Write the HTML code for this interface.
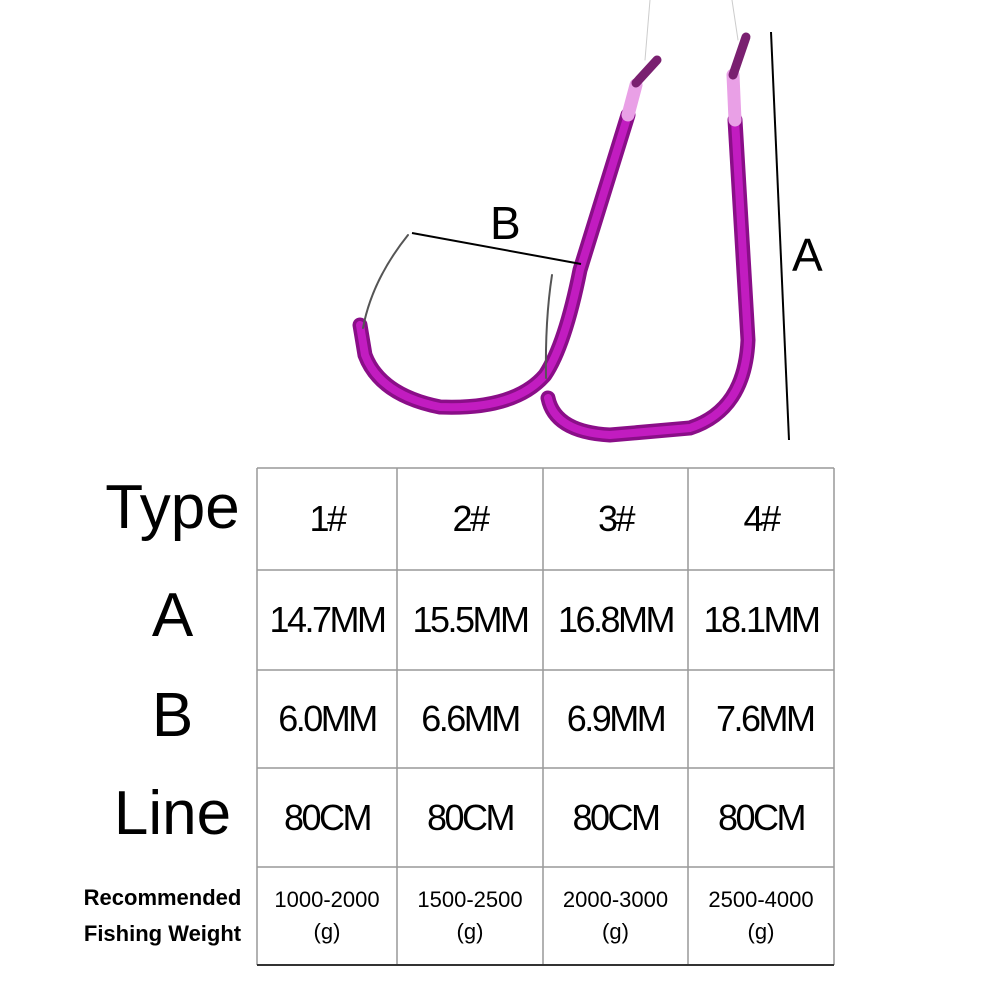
<!DOCTYPE html>
<html><head><meta charset="utf-8"><style>
body{margin:0;width:1000px;height:1000px;background:#fff;overflow:hidden;position:relative;font-family:"Liberation Sans",sans-serif}
.t{position:absolute;color:#000;text-align:center}
</style></head><body>
<svg width="1000" height="1000" style="position:absolute;left:0;top:0">
<g fill="none" stroke-linecap="round">
<path d="M360 325 L365 355 Q380 395 440 407 Q515 410 545 375 Q565 345 580 270 L628 115" stroke="#8a0e88" stroke-width="15"/>
<path d="M360 325 L365 355 Q380 395 440 407 Q515 410 545 375 Q565 345 580 270 L628 115" stroke="#c21cc0" stroke-width="8"/>
<path d="M548 398 Q555 432 610 435 L690 428 Q745 410 748 340 L735 120" stroke="#8a0e88" stroke-width="15"/>
<path d="M548 398 Q555 432 610 435 L690 428 Q745 410 748 340 L735 120" stroke="#c21cc0" stroke-width="8"/>
<path d="M628 115 L636 85" stroke="#e9a0e6" stroke-width="13"/>
<path d="M735 120 L733 75" stroke="#e9a0e6" stroke-width="13"/>
<path d="M636 83 L657 60" stroke="#7a2070" stroke-width="9"/>
<path d="M733 75 L746 37" stroke="#7a2070" stroke-width="9"/>
<path d="M363 328 Q372 280 408 235" stroke="#555" stroke-width="2"/>
<path d="M546 378 Q545 320 552 275" stroke="#555" stroke-width="2"/>
<path d="M645 60 L650 0 M738 40 L732 0" stroke="#ccc" stroke-width="1"/>
</g>
<line x1="412" y1="233" x2="581" y2="264" stroke="#000" stroke-width="2"/>
<line x1="771" y1="32" x2="789" y2="440" stroke="#000" stroke-width="2"/>
<g stroke="#999" stroke-width="1.5">
<line x1="257" y1="468" x2="834" y2="468"/><line x1="257" y1="570" x2="834" y2="570"/>
<line x1="257" y1="670" x2="834" y2="670"/><line x1="257" y1="768" x2="834" y2="768"/>
<line x1="257" y1="867" x2="834" y2="867"/>
<line x1="257" y1="468" x2="257" y2="965"/><line x1="397" y1="468" x2="397" y2="965"/>
<line x1="543" y1="468" x2="543" y2="965"/><line x1="688" y1="468" x2="688" y2="965"/>
<line x1="834" y1="468" x2="834" y2="965"/>
</g>
<line x1="257" y1="965" x2="834" y2="965" stroke="#333" stroke-width="2"/>
</svg>
<div class="t" style="left:490px;top:196px;font-size:46px">B</div>
<div class="t" style="left:792px;top:228px;font-size:46px">A</div>
<div class="t" style="left:85px;top:472px;width:175px;font-size:62px">Type</div>
<div class="t" style="left:85px;top:580px;width:175px;font-size:62px">A</div>
<div class="t" style="left:85px;top:680px;width:175px;font-size:62px">B</div>
<div class="t" style="left:85px;top:778px;width:175px;font-size:62px">Line</div>
<div class="t" style="left:70px;top:880px;width:185px;font-size:22px;font-weight:bold;line-height:36px">Recommended<br>Fishing Weight</div>
<div style="position:absolute;left:257px;top:468px;width:577px;font-size:36px;letter-spacing:-2.5px">
<div style="display:flex;height:102px;align-items:center"><div class="t" style="position:static;width:140px">1#</div><div class="t" style="position:static;width:146px">2#</div><div class="t" style="position:static;width:145px">3#</div><div class="t" style="position:static;width:146px">4#</div></div>
<div style="display:flex;height:100px;align-items:center"><div class="t" style="position:static;width:140px">14.7MM</div><div class="t" style="position:static;width:146px">15.5MM</div><div class="t" style="position:static;width:145px">16.8MM</div><div class="t" style="position:static;width:146px">18.1MM</div></div>
<div style="display:flex;height:98px;align-items:center"><div class="t" style="position:static;width:140px">6.0MM</div><div class="t" style="position:static;width:146px">6.6MM</div><div class="t" style="position:static;width:145px">6.9MM</div><div class="t" style="position:static;width:146px">&nbsp;7.6MM</div></div>
<div style="display:flex;height:99px;align-items:center"><div class="t" style="position:static;width:140px">80CM</div><div class="t" style="position:static;width:146px">80CM</div><div class="t" style="position:static;width:145px">80CM</div><div class="t" style="position:static;width:146px">80CM</div></div>
<div style="display:flex;height:98px;align-items:center;font-size:22px;letter-spacing:0;line-height:32px"><div class="t" style="position:static;width:140px">1000-2000<br>(g)</div><div class="t" style="position:static;width:146px">1500-2500<br>(g)</div><div class="t" style="position:static;width:145px">2000-3000<br>(g)</div><div class="t" style="position:static;width:146px">2500-4000<br>(g)</div></div>
</div>
</body></html>
